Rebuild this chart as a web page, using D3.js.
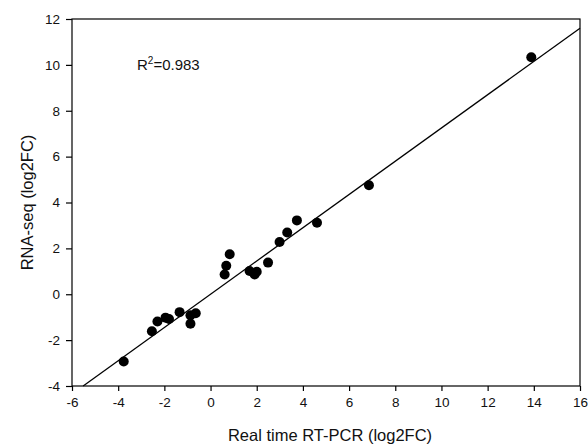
<!DOCTYPE html>
<html>
<head>
<meta charset="utf-8">
<script src="https://cdn.jsdelivr.net/npm/d3@7"></script>
<style>
  body { margin: 0; background: #fff; }
  text { font-family: Arial, "Liberation Sans", sans-serif; fill: #111; }
</style>
</head>
<body>
<svg id="chart" width="588" height="445"></svg>
<script>
// values
var rtpcr = [-3.76, -2.54, -2.30, -1.95, -1.80, -1.34, -0.87, -0.64, -0.87,
             0.61, 0.68, 0.83, 1.69, 1.91, 2.00, 2.49, 2.99, 3.32, 3.74, 4.61, 6.86, 13.89];
var rnaseq = [-2.93, -1.61, -1.19, -1.02, -1.08, -0.78, -0.92, -0.83, -1.29,
              0.86, 1.24, 1.74, 1.01, 0.86, 0.98, 1.38, 2.28, 2.69, 3.22, 3.12, 4.75, 10.33];
var xTicks = [-6, -4, -2, 0, 2, 4, 6, 8, 10, 12, 14, 16];
var yTicks = [-4, -2, 0, 2, 4, 6, 8, 10, 12];
var fitSlope = 0.725, fitIntercept = 0.0;
var r2Label = "0.983";

var svg = d3.select("#chart"),
    margin = {top: 19, right: 8, bottom: 59, left: 72},
    width = 588 - margin.left - margin.right,
    height = 445 - margin.top - margin.bottom;

var x = d3.scaleLinear().domain([-6, 16]).range([0, width]),
    y = d3.scaleLinear().domain([-4, 12]).range([height, 0]);

// plain hyphen minus like the original figure
var fmt = function (d) {return String(d)};

var g = svg.append("g")
    .attr("transform", "translate(" + margin.left + "," + margin.top + ")");

// frame
g.append("rect")
    .attr("width", width)
    .attr("height", height)
    .attr("fill", "none")
    .attr("stroke", "#000")
    .attr("stroke-width", 1.2);

var xAxis = g.append("g")
    .attr("transform", "translate(0," + height + ")")
    .call(d3.axisBottom(x).tickValues(xTicks).tickFormat(fmt).tickSize(5).tickPadding(6));

var yAxis = g.append("g")
    .call(d3.axisLeft(y).tickValues(yTicks).tickFormat(fmt).tickSize(6).tickPadding(6));

[xAxis, yAxis].forEach(function (a) {
    a.select(".domain").remove();
    a.selectAll("line").attr("stroke", "#000").attr("stroke-width", 1.2);
    a.selectAll("text")
        .attr("fill", "#111")
        .style("font-size", "13.5px")
        .style("font-family", "Arial, 'Liberation Sans', sans-serif");
});

// regression line clipped to plot area
var x0 = (y.domain()[0] - fitIntercept) / fitSlope,
    x1 = x.domain()[1];
g.append("line")
    .attr("x1", x(Math.max(x0, x.domain()[0])))
    .attr("y1", y(fitSlope * Math.max(x0, x.domain()[0]) + fitIntercept))
    .attr("x2", x(x1))
    .attr("y2", y(fitSlope * x1 + fitIntercept))
    .attr("stroke", "#000")
    .attr("stroke-width", 1.3);

// points
g.selectAll("circle.pt")
    .data(d3.zip(rtpcr, rnaseq))
    .enter()
    .append("circle")
    .attr("class", "pt")
    .attr("cx", function (d) {return x(d[0])})
    .attr("cy", function (d) {return y(d[1])})
    .attr("r", 5)
    .attr("fill", "#000");

// R squared
var r2 = g.append("text")
    .attr("x", 65)
    .attr("y", 51)
    .style("font-size", "15px");
r2.append("tspan").text("R");
r2.append("tspan").attr("dy", -6).style("font-size", "10px").text("2");
r2.append("tspan").attr("dy", 6).text("=" + r2Label);

// axis titles
svg.append("text")
    .attr("x", margin.left + width / 2 + 4)
    .attr("y", 441)
    .attr("text-anchor", "middle")
    .style("font-size", "16.5px")
    .text("Real time RT-PCR (log2FC)");

svg.append("text")
    .attr("transform", "translate(33," + (margin.top + height / 2) + ") rotate(-90)")
    .attr("text-anchor", "middle")
    .style("font-size", "16.5px")
    .text("RNA-seq (log2FC)");
</script>
</body>
</html>
